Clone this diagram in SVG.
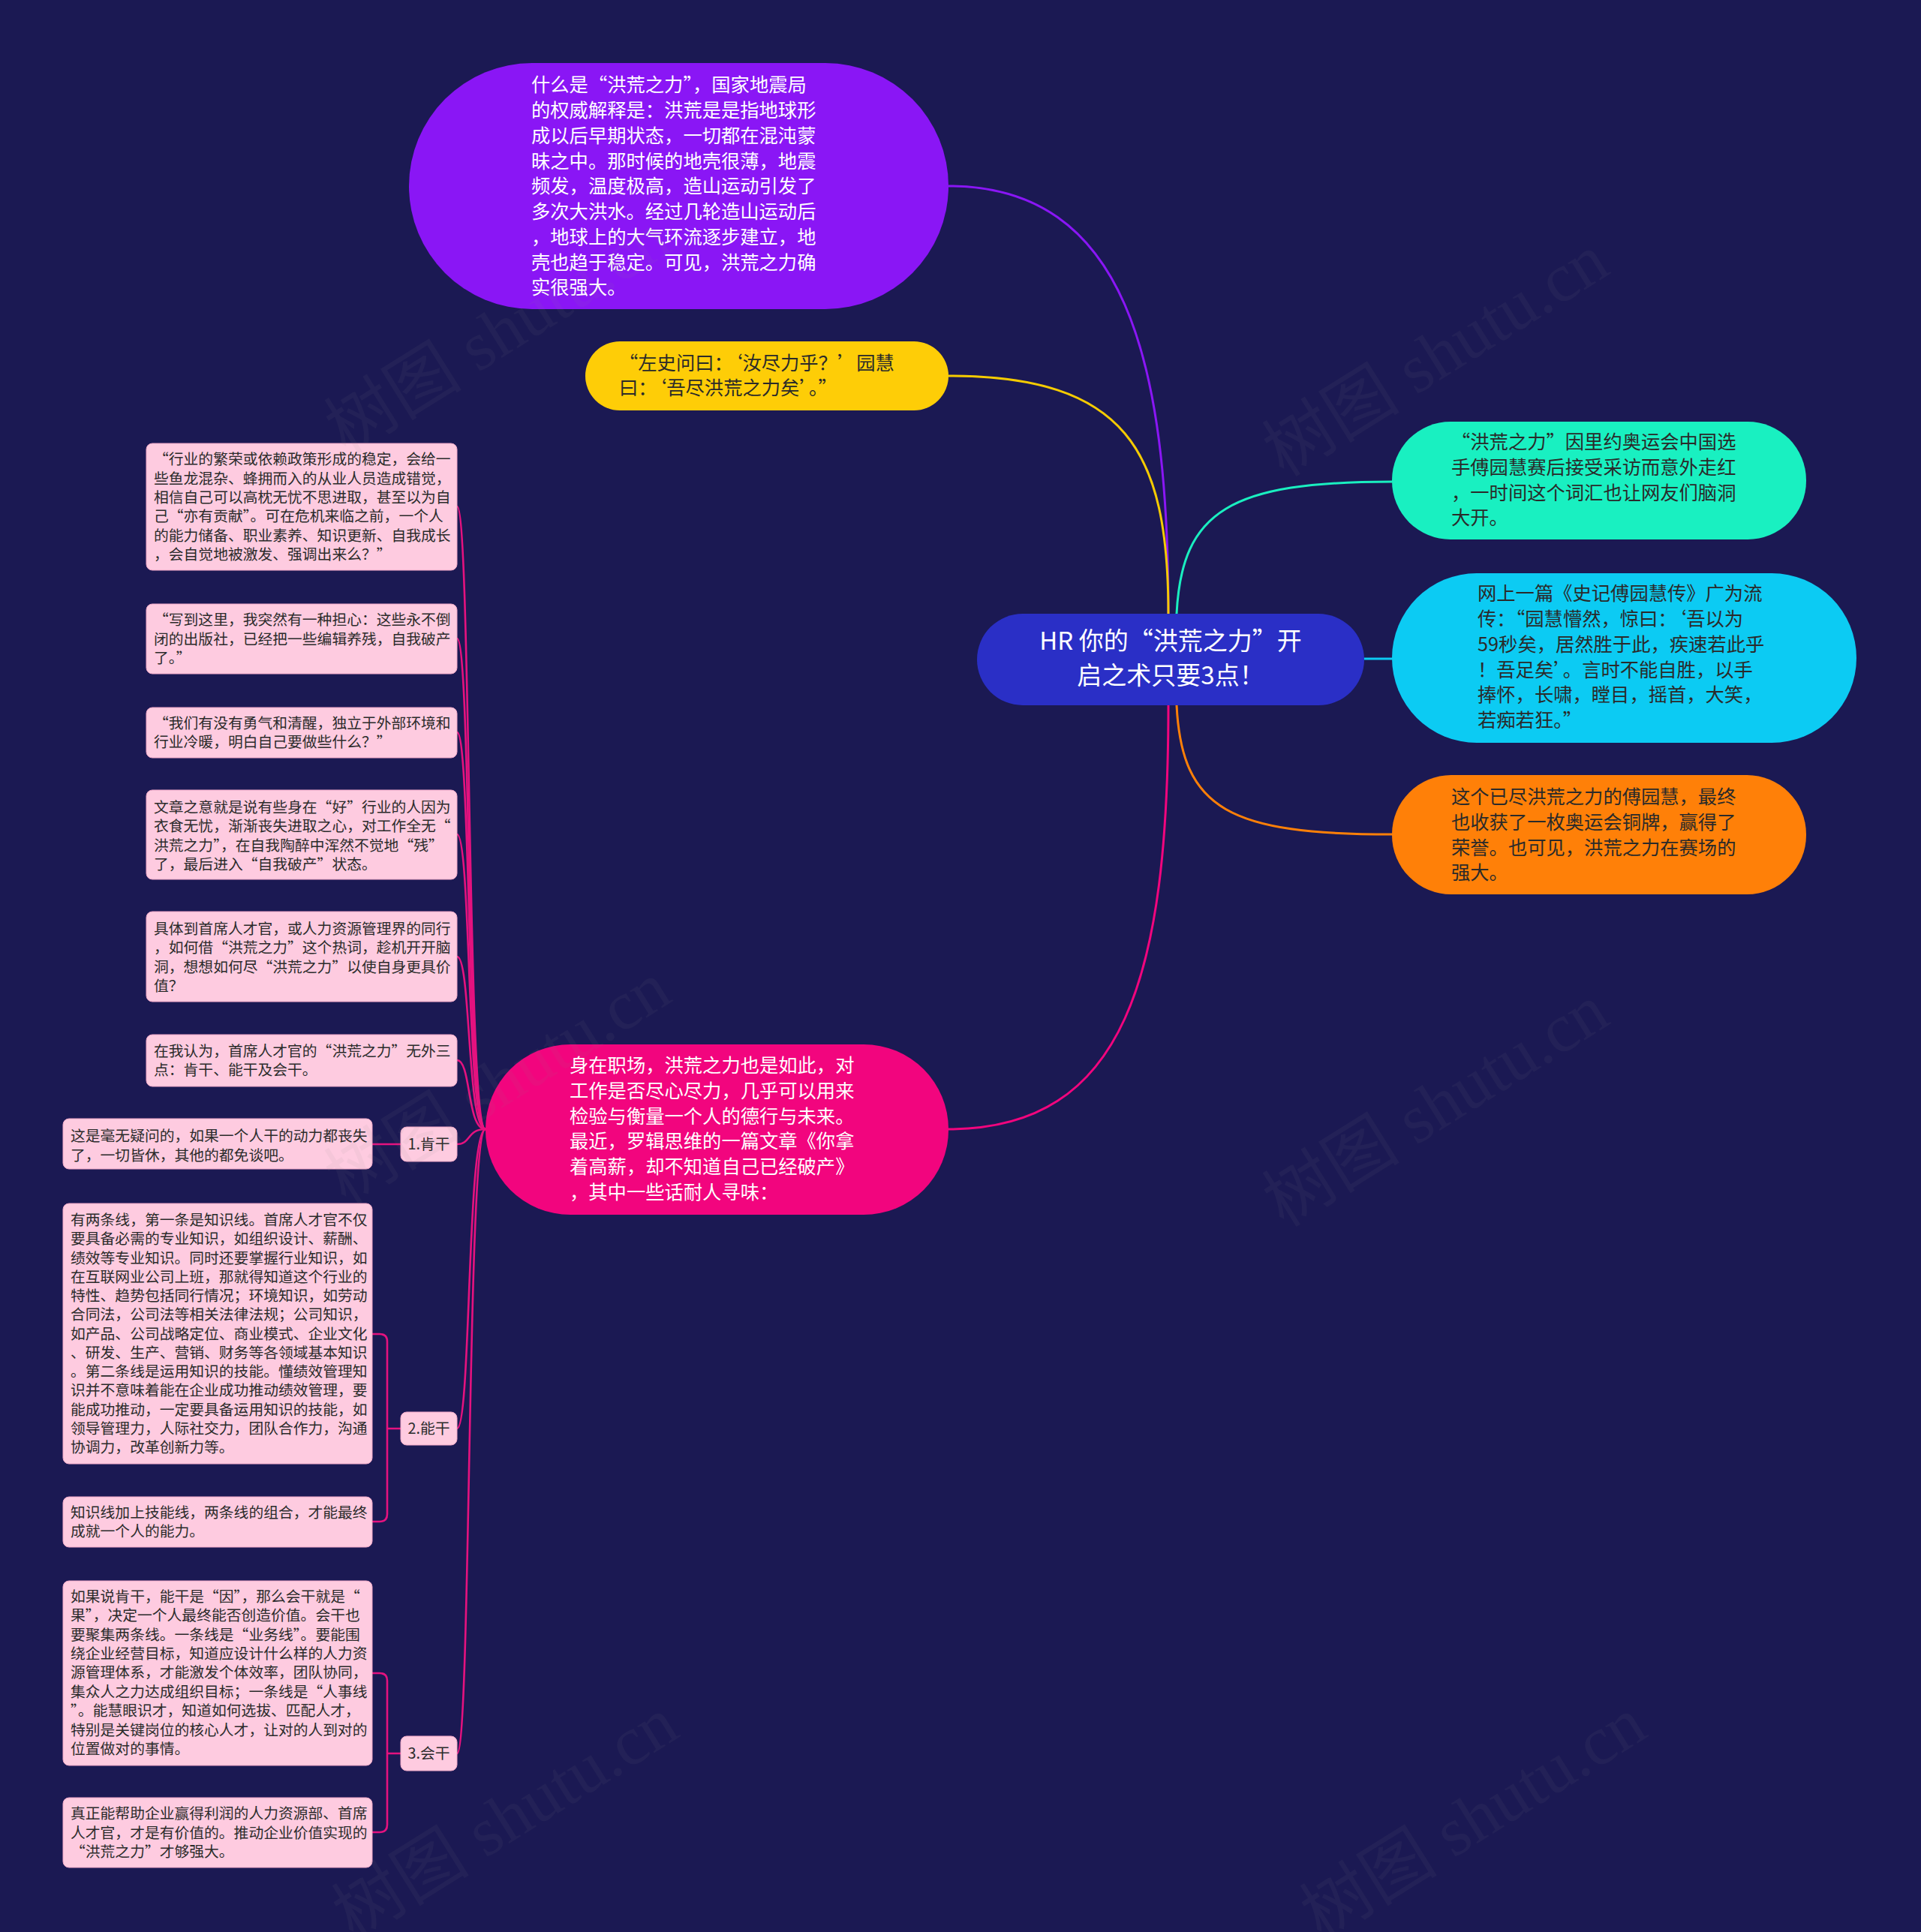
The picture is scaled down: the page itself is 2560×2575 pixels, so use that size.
<svg xmlns="http://www.w3.org/2000/svg" width="2560" height="2575" viewBox="0 0 2560 2575">
<style>
text{font-family:"Noto Sans CJK SC","Noto Sans",sans-serif}
.big{font-size:25.3px}
.leaf{font-size:19.8px;fill:#2b2b2b}
.fw{font-feature-settings:"fwid"}
.nf{font-feature-settings:normal}
.lt{fill:#ffffff}
.dk{fill:#2a2a2a}
.lbox{fill:#fecbe0;stroke:#f0a8c8;stroke-width:1}
.c{fill:none;stroke-width:3;stroke-linecap:round}
.cl{fill:none;stroke:#e5127f;stroke-width:2.6;stroke-linecap:round}
.wm{font-size:92px;fill:#8a8a8a;opacity:0.07;font-family:"Liberation Serif","Noto Sans CJK SC",serif}
</style>
<rect width="2560" height="2575" fill="#1b1953"/>

<g id="connectors">
<path class="c" stroke="#8a16f5" d="M1557 818 C1557 480 1500 248 1264 248"/>
<path class="c" stroke="#f5cb00" d="M1557 818 C1557 600 1500 501 1264 501"/>
<path class="c" stroke="#1aefc0" d="M1568 818 C1575 680 1640 642 1855 642"/>
<path class="c" stroke="#0ccbf3" d="M1818 878 L1855 878"/>
<path class="c" stroke="#ff8008" d="M1568 940 C1575 1080 1640 1112 1855 1112"/>
<path class="c" stroke="#f2057e" d="M1557 940 C1557 1300 1500 1505 1264 1505"/>
<path class="cl" d="M647 1505 C622 1505 628 675 609 675"/>
<path class="cl" d="M647 1505 C622 1505 628 851 609 851"/>
<path class="cl" d="M647 1505 C622 1505 628 976 609 976"/>
<path class="cl" d="M647 1505 C622 1505 628 1112 609 1112"/>
<path class="cl" d="M647 1505 C622 1505 628 1275 609 1275"/>
<path class="cl" d="M647 1505 C622 1505 628 1413 609 1413"/>
<path class="cl" d="M647 1505 C622 1505 628 1525 609 1525"/>
<path class="cl" d="M647 1505 C622 1505 628 1904 609 1904"/>
<path class="cl" d="M647 1505 C622 1505 628 2337 609 2337"/>
<path class="cl" d="M534 1525 L496 1525"/>
<path class="cl" d="M534 1904 H516 M496 1778 H506 Q516 1778 516 1788 V2018 Q516 2028 506 2028 H496"/>
<path class="cl" d="M534 2337 H516 M496 2230 H506 Q516 2230 516 2240 V2432 Q516 2442 506 2442 H496"/>
</g>

<g id="center">
<rect x="1302" y="818" width="516" height="122" rx="61" fill="#2a2fc6"/>
<text x="1560" y="866" font-size="33" fill="#fff" text-anchor="middle">HR 你的<tspan class="fw">“洪荒之力”</tspan>开</text>
<text x="1560" y="912" font-size="33" fill="#fff" text-anchor="middle">启之术只要3点！</text>
</g>

<g id="n-purple">
<rect x="545" y="84" width="719" height="328" rx="164" fill="#8a16f5"/>
<text class="big lt fw">
<tspan x="708" y="122">什么是“洪荒之力”，国家地震局</tspan>
<tspan x="708" y="156">的权威解释是：洪荒是是指地球形</tspan>
<tspan x="708" y="190">成以后早期状态，一切都在混沌蒙</tspan>
<tspan x="708" y="224">昧之中。那时候的地壳很薄，地震</tspan>
<tspan x="708" y="257">频发，温度极高，造山运动引发了</tspan>
<tspan x="708" y="291">多次大洪水。经过几轮造山运动后</tspan>
<tspan x="708" y="325">，地球上的大气环流逐步建立，地</tspan>
<tspan x="708" y="359">壳也趋于稳定。可见，洪荒之力确</tspan>
<tspan x="708" y="392">实很强大。</tspan>
</text>
</g>

<g id="n-yellow">
<rect x="780" y="455" width="484" height="92" rx="46" fill="#fecd07"/>
<text class="big dk fw">
<tspan x="825" y="493">“左史问曰：‘汝尽力乎？’园慧</tspan>
<tspan x="825" y="526">曰：‘吾尽洪荒之力矣’。”</tspan>
</text>
</g>

<g id="n-teal">
<rect x="1855" y="562" width="552" height="157" rx="78" fill="#19f0c1"/>
<text class="big dk fw">
<tspan x="1934" y="598">“洪荒之力”因里约奥运会中国选</tspan>
<tspan x="1934" y="632">手傅园慧赛后接受采访而意外走红</tspan>
<tspan x="1934" y="666">，一时间这个词汇也让网友们脑洞</tspan>
<tspan x="1934" y="699">大开。</tspan>
</text>
</g>

<g id="n-cyan">
<rect x="1855" y="764" width="619" height="226" rx="113" fill="#0ccbf3"/>
<text class="big dk">
<tspan x="1969" y="800" class="fw">网上一篇《史记傅园慧传》广为流</tspan>
<tspan x="1969" y="834" class="fw">传：“园慧懵然，惊曰：‘吾以为</tspan>
<tspan x="1969" y="868">59秒矣，居然胜于此，疾速若此乎</tspan>
<tspan x="1969" y="902" class="fw">！吾足矣’。言时不能自胜，以手</tspan>
<tspan x="1969" y="935" class="fw">捧怀，长啸，瞠目，摇首，大笑，</tspan>
<tspan x="1969" y="969" class="fw">若痴若狂。”</tspan>
</text>
</g>

<g id="n-orange">
<rect x="1855" y="1033" width="552" height="159" rx="79" fill="#ff8008"/>
<text class="big dk">
<tspan x="1934" y="1071">这个已尽洪荒之力的傅园慧，最终</tspan>
<tspan x="1934" y="1105">也收获了一枚奥运会铜牌，赢得了</tspan>
<tspan x="1934" y="1139">荣誉。也可见，洪荒之力在赛场的</tspan>
<tspan x="1934" y="1172">强大。</tspan>
</text>
</g>

<g id="n-magenta">
<rect x="647" y="1392" width="617" height="227" rx="113" fill="#f2057e"/>
<text class="big lt fw">
<tspan x="759" y="1429">身在职场，洪荒之力也是如此，对</tspan>
<tspan x="759" y="1463">工作是否尽心尽力，几乎可以用来</tspan>
<tspan x="759" y="1497">检验与衡量一个人的德行与未来。</tspan>
<tspan x="759" y="1530">最近，罗辑思维的一篇文章《你拿</tspan>
<tspan x="759" y="1564">着高薪，却不知道自己已经破产》</tspan>
<tspan x="759" y="1598">，其中一些话耐人寻味：</tspan>
</text>
</g>

<g id="leaf1">
<rect class="lbox" x="195" y="591" width="414" height="169" rx="8"/>
<text class="leaf fw">
<tspan x="205" y="619">“行业的繁荣或依赖政策形成的稳定，会给一</tspan>
<tspan x="205" y="645">些鱼龙混杂、蜂拥而入的从业人员造成错觉，</tspan>
<tspan x="205" y="670">相信自己可以高枕无忧不思进取，甚至以为自</tspan>
<tspan x="205" y="695">己“亦有贡献”。可在危机来临之前，一个人</tspan>
<tspan x="205" y="721">的能力储备、职业素养、知识更新、自我成长</tspan>
<tspan x="205" y="746">，会自觉地被激发、强调出来么？”</tspan>
</text>
</g>

<g id="leaf2">
<rect class="lbox" x="195" y="805" width="414" height="93" rx="8"/>
<text class="leaf fw">
<tspan x="205" y="833">“写到这里，我突然有一种担心：这些永不倒</tspan>
<tspan x="205" y="859">闭的出版社，已经把一些编辑养残，自我破产</tspan>
<tspan x="205" y="884">了。”</tspan>
</text>
</g>

<g id="leaf3">
<rect class="lbox" x="195" y="943" width="414" height="67" rx="8"/>
<text class="leaf fw">
<tspan x="205" y="971">“我们有没有勇气和清醒，独立于外部环境和</tspan>
<tspan x="205" y="996">行业冷暖，明白自己要做些什么？”</tspan>
</text>
</g>

<g id="leaf4">
<rect class="lbox" x="195" y="1053" width="414" height="119" rx="8"/>
<text class="leaf fw">
<tspan x="205" y="1083">文章之意就是说有些身在“好”行业的人因为</tspan>
<tspan x="205" y="1108">衣食无忧，渐渐丧失进取之心，对工作全无“</tspan>
<tspan x="205" y="1134">洪荒之力”，在自我陶醉中浑然不觉地“残”</tspan>
<tspan x="205" y="1159">了，最后进入“自我破产”状态。</tspan>
</text>
</g>

<g id="leaf5">
<rect class="lbox" x="195" y="1215" width="414" height="120" rx="8"/>
<text class="leaf fw">
<tspan x="205" y="1245">具体到首席人才官，或人力资源管理界的同行</tspan>
<tspan x="205" y="1270">，如何借“洪荒之力”这个热词，趁机开开脑</tspan>
<tspan x="205" y="1296">洞，想想如何尽“洪荒之力”以使自身更具价</tspan>
<tspan x="205" y="1321">值？</tspan>
</text>
</g>

<g id="leaf6">
<rect class="lbox" x="195" y="1379" width="414" height="69" rx="8"/>
<text class="leaf fw">
<tspan x="205" y="1408">在我认为，首席人才官的“洪荒之力”无外三</tspan>
<tspan x="205" y="1433">点：肯干、能干及会干。</tspan>
</text>
</g>

<g id="k1">
<rect class="lbox" x="534" y="1502" width="75" height="46" rx="8"/>
<text class="leaf" x="571.5" y="1532" text-anchor="middle">1.肯干</text>
</g>
<g id="k1-a">
<rect class="lbox" x="84" y="1491" width="412" height="67" rx="8"/>
<text class="leaf fw">
<tspan x="94" y="1521">这是毫无疑问的，如果一个人干的动力都丧失</tspan>
<tspan x="94" y="1547">了，一切皆休，其他的都免谈吧。</tspan>
</text>
</g>

<g id="k2">
<rect class="lbox" x="534" y="1882" width="75" height="44" rx="8"/>
<text class="leaf" x="571.5" y="1911" text-anchor="middle">2.能干</text>
</g>
<g id="k2-a">
<rect class="lbox" x="84" y="1604" width="412" height="347" rx="8"/>
<text class="leaf fw">
<tspan x="94" y="1633">有两条线，第一条是知识线。首席人才官不仅</tspan>
<tspan x="94" y="1658">要具备必需的专业知识，如组织设计、薪酬、</tspan>
<tspan x="94" y="1684">绩效等专业知识。同时还要掌握行业知识，如</tspan>
<tspan x="94" y="1709">在互联网业公司上班，那就得知道这个行业的</tspan>
<tspan x="94" y="1734">特性、趋势包括同行情况；环境知识，如劳动</tspan>
<tspan x="94" y="1759">合同法，公司法等相关法律法规；公司知识，</tspan>
<tspan x="94" y="1785">如产品、公司战略定位、商业模式、企业文化</tspan>
<tspan x="94" y="1810">、研发、生产、营销、财务等各领域基本知识</tspan>
<tspan x="94" y="1835">。第二条线是运用知识的技能。懂绩效管理知</tspan>
<tspan x="94" y="1860">识并不意味着能在企业成功推动绩效管理，要</tspan>
<tspan x="94" y="1886">能成功推动，一定要具备运用知识的技能，如</tspan>
<tspan x="94" y="1911">领导管理力，人际社交力，团队合作力，沟通</tspan>
<tspan x="94" y="1936">协调力，改革创新力等。</tspan>
</text>
</g>
<g id="k2-b">
<rect class="lbox" x="84" y="1995" width="412" height="67" rx="8"/>
<text class="leaf fw">
<tspan x="94" y="2023">知识线加上技能线，两条线的组合，才能最终</tspan>
<tspan x="94" y="2048">成就一个人的能力。</tspan>
</text>
</g>

<g id="k3">
<rect class="lbox" x="534" y="2314" width="75" height="46" rx="8"/>
<text class="leaf" x="571.5" y="2344" text-anchor="middle">3.会干</text>
</g>
<g id="k3-a">
<rect class="lbox" x="84" y="2107" width="412" height="246" rx="8"/>
<text class="leaf fw">
<tspan x="94" y="2135">如果说肯干，能干是“因”，那么会干就是“</tspan>
<tspan x="94" y="2160">果”，决定一个人最终能否创造价值。会干也</tspan>
<tspan x="94" y="2186">要聚集两条线。一条线是“业务线”。要能围</tspan>
<tspan x="94" y="2211">绕企业经营目标，知道应设计什么样的人力资</tspan>
<tspan x="94" y="2236">源管理体系，才能激发个体效率，团队协同，</tspan>
<tspan x="94" y="2262">集众人之力达成组织目标；一条线是“人事线</tspan>
<tspan x="94" y="2287">”。能慧眼识才，知道如何选拔、匹配人才，</tspan>
<tspan x="94" y="2313">特别是关键岗位的核心人才，让对的人到对的</tspan>
<tspan x="94" y="2338">位置做对的事情。</tspan>
</text>
</g>
<g id="k3-b">
<rect class="lbox" x="84" y="2396" width="412" height="93" rx="8"/>
<text class="leaf fw">
<tspan x="94" y="2424">真正能帮助企业赢得利润的人力资源部、首席</tspan>
<tspan x="94" y="2450">人才官，才是有价值的。推动企业价值实现的</tspan>
<tspan x="94" y="2475">“洪荒之力”才够强大。</tspan>
</text>
</g>

<g id="watermarks">
<text class="wm" transform="translate(680 470) rotate(-32)" text-anchor="middle">树图 shutu.cn</text>
<text class="wm" transform="translate(1930 500) rotate(-32)" text-anchor="middle">树图 shutu.cn</text>
<text class="wm" transform="translate(680 1470) rotate(-32)" text-anchor="middle">树图 shutu.cn</text>
<text class="wm" transform="translate(1930 1500) rotate(-32)" text-anchor="middle">树图 shutu.cn</text>
<text class="wm" transform="translate(690 2450) rotate(-32)" text-anchor="middle">树图 shutu.cn</text>
<text class="wm" transform="translate(1980 2450) rotate(-32)" text-anchor="middle">树图 shutu.cn</text>
</g>
</svg>
